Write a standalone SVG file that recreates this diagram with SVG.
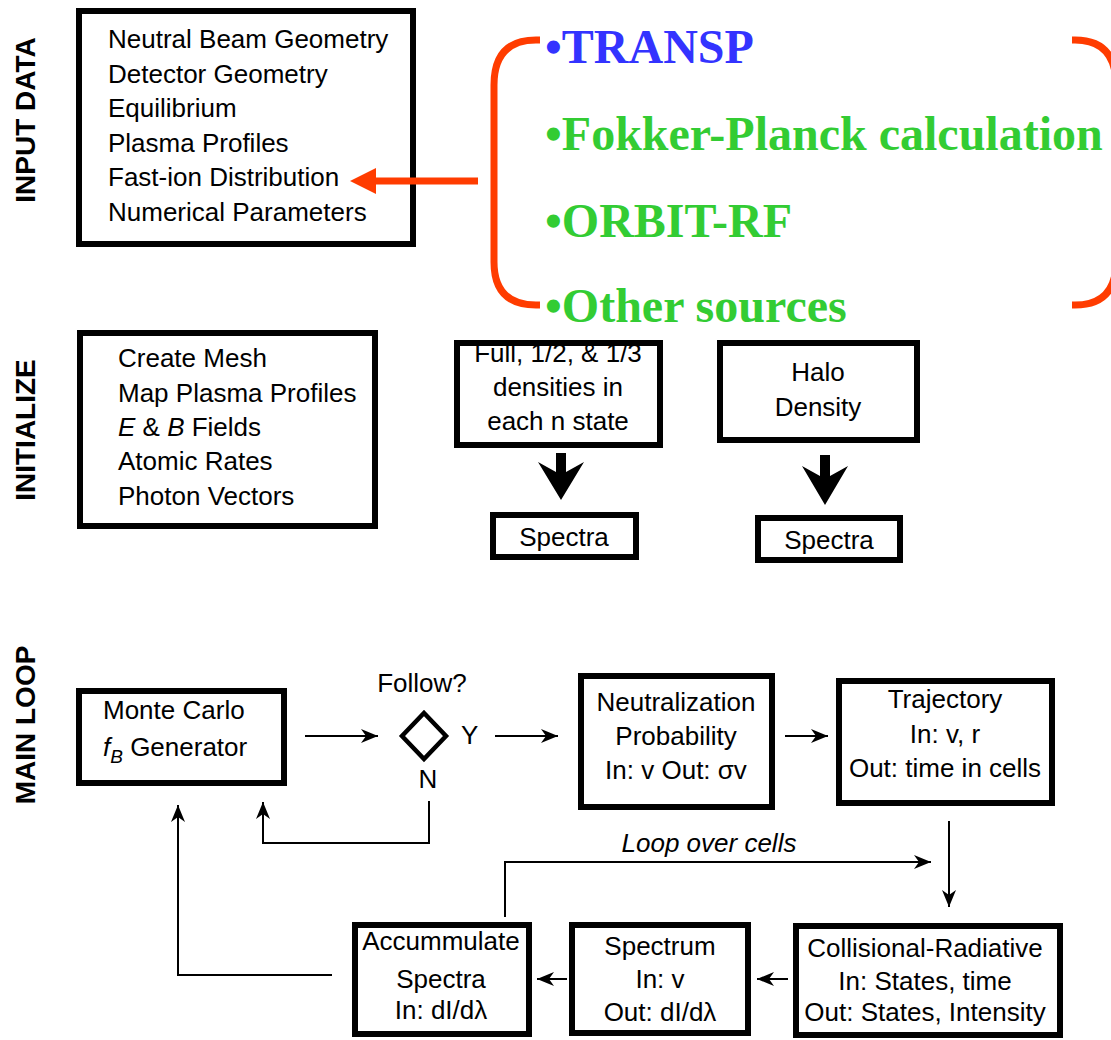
<svg xmlns="http://www.w3.org/2000/svg" width="1111" height="1040" viewBox="0 0 1111 1040">
<style>
.box{fill:#fff;stroke:#000;stroke-width:6}
.t{font-family:"Liberation Sans",Arial,sans-serif;font-size:26px;fill:#000}
.c{text-anchor:middle}
.lbl{font-family:"Liberation Sans",Arial,sans-serif;font-size:28px;font-weight:bold;fill:#000;text-anchor:middle}
.src{font-family:"Liberation Serif","Times New Roman",serif;font-size:48px;font-weight:bold}
.ln{fill:none;stroke:#000;stroke-width:2}
.red{fill:none;stroke:#ff3c00;stroke-width:7}
</style>
<defs>
<marker id="ah" viewBox="-18 -8 20 16" refX="0" refY="0" markerWidth="20" markerHeight="16" orient="auto" markerUnits="userSpaceOnUse">
<path d="M0,0 L-17,-7 L-12,0 L-17,7 Z" fill="#000"/>
</marker>
</defs>
<rect width="1111" height="1040" fill="#fff"/>

<g id="section-labels">
<text class="lbl" transform="translate(35,120) rotate(-90)">INPUT DATA</text>
<text class="lbl" transform="translate(35,430) rotate(-90)">INITIALIZE</text>
<text class="lbl" transform="translate(35,725) rotate(-90)">MAIN LOOP</text>
</g>

<g id="input-data">
<rect class="box" x="79" y="11" width="334" height="233"/>
<text class="t" x="108" y="48">Neutral Beam Geometry</text>
<text class="t" x="108" y="83">Detector Geometry</text>
<text class="t" x="108" y="117">Equilibrium</text>
<text class="t" x="108" y="152">Plasma Profiles</text>
<text class="t" x="108" y="186">Fast-ion Distribution</text>
<text class="t" x="108" y="221">Numerical Parameters</text>
</g>

<g id="sources">
<path class="red" d="M540,40 H536 Q494,40 494,85 V262 Q494,305 536,305 H540"/>
<path class="red" d="M1072,40 H1075 Q1116,40 1116,85 V262 Q1116,305 1075,305 H1072"/>
<text class="src" x="545" y="63" fill="#3333ff">•TRANSP</text>
<text class="src" x="545" y="150" fill="#33cc33">•Fokker-Planck calculation</text>
<text class="src" x="545" y="237" fill="#33cc33">•ORBIT-RF</text>
<text class="src" x="545" y="322" fill="#33cc33">•Other sources</text>
</g>

<g id="initialize">
<rect class="box" x="80" y="333" width="295" height="193"/>
<text class="t" x="118" y="367">Create Mesh</text>
<text class="t" x="118" y="402">Map Plasma Profiles</text>
<text class="t" x="118" y="436"><tspan font-style="italic">E</tspan> &amp; <tspan font-style="italic">B</tspan> Fields</text>
<text class="t" x="118" y="470">Atomic Rates</text>
<text class="t" x="118" y="505">Photon Vectors</text>
</g>

<g id="beam-densities">
<rect class="box" x="457" y="343" width="203" height="102"/>
<text class="t c" x="558" y="362">Full, 1/2, &amp; 1/3</text>
<text class="t c" x="558" y="396">densities in</text>
<text class="t c" x="558" y="430">each n state</text>
</g>

<g id="halo-density">
<rect class="box" x="720" y="343" width="197" height="97"/>
<text class="t c" x="818" y="381">Halo</text>
<text class="t c" x="818" y="416">Density</text>
</g>

<g id="spectra-1">
<rect class="box" x="493" y="515" width="143" height="42"/>
<text class="t c" x="564" y="546">Spectra</text>
</g>

<g id="spectra-2">
<rect class="box" x="758" y="518" width="142" height="42"/>
<text class="t c" x="829" y="549">Spectra</text>
</g>

<g id="monte-carlo">
<rect class="box" x="79" y="691" width="205" height="92"/>
<text class="t" x="103" y="719">Monte Carlo</text>
<text class="t" x="103" y="756"><tspan font-style="italic">f</tspan><tspan font-style="italic" font-size="19" dy="7">B</tspan><tspan dy="-7"> Generator</tspan></text>
</g>

<g id="follow">
<polygon points="424,713 446,736 424,759 402,736" fill="none" stroke="#000" stroke-width="4.5"/>
<text class="t c" x="422" y="692">Follow?</text>
<text class="t" x="461" y="744">Y</text>
<text class="t c" x="428" y="788">N</text>
</g>

<g id="neutralization">
<rect class="box" x="581" y="676" width="191" height="131"/>
<text class="t c" x="676" y="711">Neutralization</text>
<text class="t c" x="676" y="745">Probability</text>
<text class="t c" x="676" y="779">In: v Out: σv</text>
</g>

<g id="trajectory">
<rect class="box" x="839" y="681" width="213" height="122"/>
<text class="t c" x="945" y="708">Trajectory</text>
<text class="t c" x="945" y="743">In: v, r</text>
<text class="t c" x="945" y="777">Out: time in cells</text>
</g>

<g id="collisional-radiative">
<rect class="box" x="796" y="926" width="264" height="109"/>
<text class="t c" x="925" y="957">Collisional-Radiative</text>
<text class="t c" x="925" y="990">In: States, time</text>
<text class="t c" x="925" y="1021">Out: States, Intensity</text>
</g>

<g id="spectrum">
<rect class="box" x="572" y="925" width="176" height="108"/>
<text class="t c" x="660" y="955">Spectrum</text>
<text class="t c" x="660" y="988">In: v</text>
<text class="t c" x="660" y="1021">Out: dI/dλ</text>
</g>

<g id="accumulate">
<rect class="box" x="355" y="925" width="174" height="109"/>
<text class="t c" x="441" y="950">Accummulate</text>
<text class="t c" x="441" y="988">Spectra</text>
<text class="t c" x="441" y="1019">In: dI/dλ</text>
</g>

<g id="connectors">
<line x1="478" y1="181" x2="372" y2="181" stroke="#ff3c00" stroke-width="7"/>
<polygon points="350,181 376,168 376,194" fill="#ff3c00"/>
<path d="M556,453 H566 V472 L584,462 L561,500 L538,462 L556,472 Z" fill="#000"/>
<path d="M820,455 H830 V476 L848,466 L825,505 L802,466 L820,476 Z" fill="#000"/>
<line class="ln" x1="305" y1="736" x2="378" y2="736" marker-end="url(#ah)"/>
<line class="ln" x1="495" y1="736" x2="558" y2="736" marker-end="url(#ah)"/>
<line class="ln" x1="785" y1="736" x2="828" y2="736" marker-end="url(#ah)"/>
<line class="ln" x1="949" y1="821" x2="949" y2="907" marker-end="url(#ah)"/>
<line class="ln" x1="788" y1="979" x2="757" y2="979" marker-end="url(#ah)"/>
<line class="ln" x1="567" y1="979" x2="537" y2="979" marker-end="url(#ah)"/>
<path class="ln" d="M505,917 V862 H931" marker-end="url(#ah)"/>
<text class="t c" x="709" y="852" font-style="italic">Loop over cells</text>
<path class="ln" d="M332,975 H178 V805" marker-end="url(#ah)"/>
<path class="ln" d="M429,801 V843 H263 V802" marker-end="url(#ah)"/>
</g>
</svg>
